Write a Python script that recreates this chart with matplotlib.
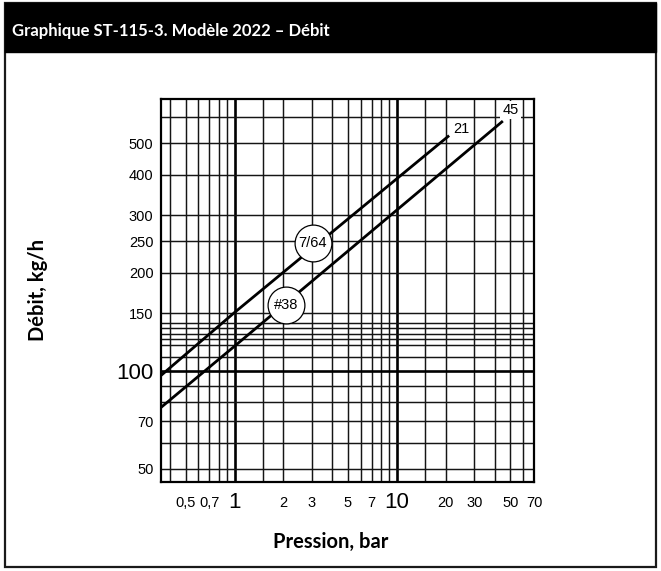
import matplotlib
matplotlib.use("Agg")
import matplotlib.pyplot as plt
from matplotlib.patches import Rectangle
from matplotlib.transforms import offset_copy
import numpy as np

# ---- data ----
pressure_764 = [0.35, 1, 21]
flow_764 = [96.5, 151, 527]
pressure_38 = [0.35, 1, 45]
flow_38 = [77, 119, 584]

series_names = ["7/64", "#38"]
end_labels = ["21", "45"]

x_ticks = [0.5, 0.7, 1, 2, 3, 5, 7, 10, 20, 30, 50, 70]
x_ticklabels = ["0,5", "0,7", "1", "2", "3", "5", "7", "10", "20", "30", "50", "70"]
y_ticks = [50, 70, 100, 150, 200, 250, 300, 400, 500]
y_ticklabels = ["50", "70", "100", "150", "200", "250", "300", "400", "500"]
big_x = ["1", "10"]
big_y = ["100"]

x_grid = [0.4, 0.5, 0.6, 0.7, 0.8, 0.9, 1.5, 2, 3, 4, 5, 6, 7, 8, 9, 15, 20, 30, 40, 50, 60]
x_grid_major = [1, 10]
y_grid = [50, 60, 70, 80, 90, 110, 120, 125, 130, 135, 140, 150, 200, 250, 300, 400, 500, 600]
y_grid_major = [100]

title = "Graphique ST-115-3. Modèle 2022 – Débit"
xlabel = "Pression, bar"
ylabel = "Débit, kg/h"

# ---- figure ----
W, H = 661, 571
fig = plt.figure(figsize=(W / 100, H / 100), dpi=100)

def fx(px):
    return px / W

def fy(py):
    return 1 - py / H

head_family = ["Lato", "DejaVu Sans"]

# outer frame and title bar
fig.patches.append(Rectangle((fx(5), fy(567)), fx(651), (567 - 3) / H, transform=fig.transFigure,
                             fill=False, edgecolor="#1a1a1a", linewidth=1.6, zorder=0))
fig.patches.append(Rectangle((fx(5), fy(52)), fx(651), 49 / H, transform=fig.transFigure,
                             facecolor="black", edgecolor="black", linewidth=1.0, zorder=0))
fig.text(fx(12), fy(31), title, color="white", fontsize=12, fontweight="bold",
         family=head_family, ha="left", va="center")

ax_l, ax_r, ax_t, ax_b = 160.5, 534, 99.3, 481.7
ax = fig.add_axes([fx(ax_l), fy(ax_b), (ax_r - ax_l) / W, (ax_b - ax_t) / H])
ax.set_xscale("log")
ax.set_yscale("log")
ax.set_xlim(0.35, 70)
ax.set_ylim(45.7, 681)

for v in x_grid:
    ax.axvline(v, color="#151515", linewidth=1.05, zorder=1)
for v in x_grid_major:
    ax.axvline(v, color="black", linewidth=1.9, zorder=1)
for v in y_grid:
    ax.axhline(v, color="#151515", linewidth=1.05, zorder=1)
for v in y_grid_major:
    ax.axhline(v, color="black", linewidth=1.9, zorder=1)

for s in ax.spines.values():
    s.set_linewidth(1.6)
    s.set_color("black")

ax.minorticks_off()
ax.set_xticks(x_ticks)
ax.set_xticklabels(x_ticklabels)
ax.set_yticks(y_ticks)
ax.set_yticklabels(y_ticklabels)
ax.tick_params(axis="both", length=0)
ax.tick_params(axis="x", pad=15)
ax.tick_params(axis="y", pad=5)
tick_family = ["Liberation Sans", "DejaVu Sans"]
for lab in ax.get_xticklabels():
    lab.set_family(tick_family)
    lab.set_va("center")
    lab.set_fontsize(16 if lab.get_text() in big_x else 10.5)
for lab in ax.get_yticklabels():
    lab.set_family(tick_family)
    lab.set_fontsize(16 if lab.get_text() in big_y else 10.5)

# lines
ax.plot(pressure_764, flow_764, color="black", linewidth=2.0, zorder=3, solid_capstyle="butt")
ax.plot(pressure_38, flow_38, color="black", linewidth=2.0, zorder=3, solid_capstyle="butt")

# end labels
ax.annotate(end_labels[0], (pressure_764[-1], flow_764[-1]), xytext=(9, 5), textcoords="offset points",
            ha="center", va="center", fontsize=10.5, family=tick_family, zorder=5)
ax.annotate(end_labels[1], (pressure_38[-1], flow_38[-1]), xytext=(5.5, 8), textcoords="offset points",
            ha="center", va="center", fontsize=10.5, family=tick_family, zorder=5,
            bbox=dict(boxstyle="square,pad=0.15", facecolor="white", edgecolor="none"))

# circle labels on the lines
def on_line(px, xs, ys):
    lx = np.log10(xs)
    ly = np.log10(ys)
    return 10 ** np.interp(np.log10(px), lx, ly)

for name, xs, ys, px, dy in [(series_names[0], pressure_764, flow_764, 3.03, 4.6),
                             (series_names[1], pressure_38, flow_38, 2.085, -2.5)]:
    py = on_line(px, xs, ys)
    tr = offset_copy(ax.transData, fig=fig, x=0, y=dy, units="dots")
    ax.plot([px], [py], marker="o", markersize=26.5, markerfacecolor="white",
            markeredgecolor="black", markeredgewidth=0.9, transform=tr, zorder=4)
    ax.text(px, py, name, transform=tr, ha="center", va="center", fontsize=10.5,
            family=tick_family, zorder=5)

ax.set_xlabel(xlabel, fontsize=14.5, fontweight="bold", family=head_family)
ax.set_ylabel(ylabel, fontsize=14.5, fontweight="bold", family=head_family)
ax.xaxis.label.set_va("center")
ax.yaxis.label.set_va("center")
ax.xaxis.set_label_coords((331 - ax_l) / (ax_r - ax_l), (ax_b - 541.7) / (ax_b - ax_t))
ax.yaxis.set_label_coords((38 - ax_l) / (ax_r - ax_l), (ax_b - 290) / (ax_b - ax_t))

fig.savefig("out.png", dpi=100)
